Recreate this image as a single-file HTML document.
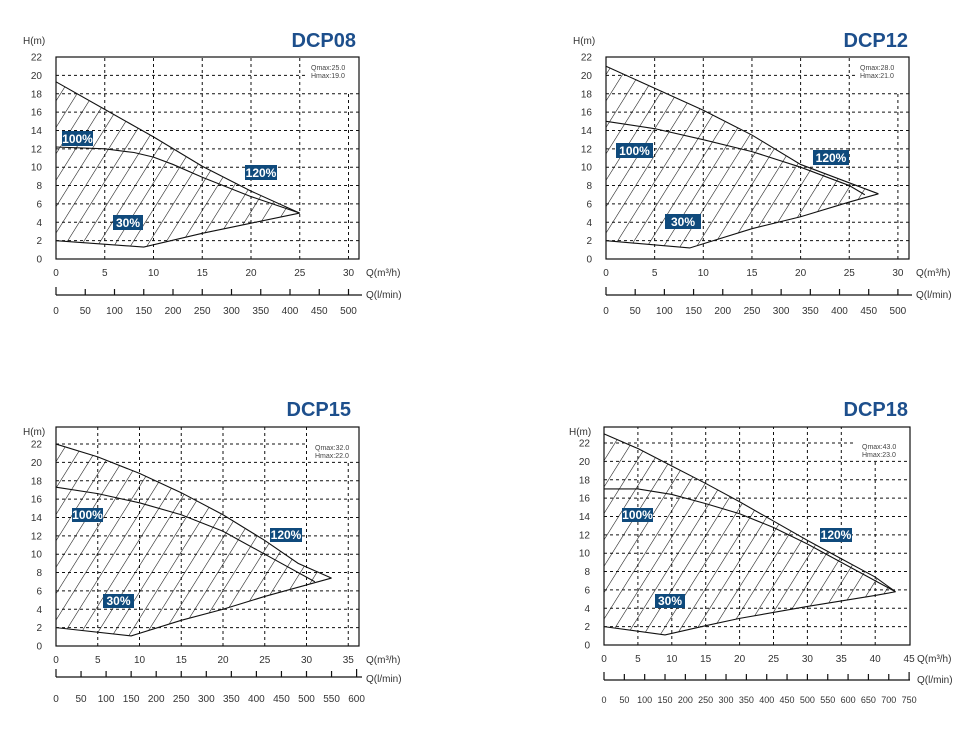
<!DOCTYPE html>
<html><head><meta charset="utf-8"><style>
html,body{margin:0;padding:0;background:#fff;}
svg{display:block;font-family:"Liberation Sans",sans-serif;}
.g{stroke:#111;stroke-width:1;stroke-dasharray:3,3;fill:none}
.b{stroke:#111;stroke-width:1.2;fill:none}
.c{stroke:#111;stroke-width:1.1;fill:none;vector-effect:non-scaling-stroke}
.t{font-size:10px;fill:#333}
.ty{font-size:10px;fill:#333;text-anchor:end}
.tx{font-size:10px;fill:#333;text-anchor:middle}
.ts{font-size:9px;fill:#333;text-anchor:middle}
.ti{font-size:20px;font-weight:bold;fill:#1d4f8c;text-anchor:end}
.q{font-size:7px;fill:#444}
.lb{fill:#0f4a7c}
.lt{font-size:12px;font-weight:bold;fill:#fff;text-anchor:middle}
</style></head><body>
<svg width="979" height="731" viewBox="0 0 979 731">
<defs>
<pattern id="h" patternUnits="userSpaceOnUse" width="14" height="14" patternTransform="rotate(32)">
<line x1="0" y1="-1" x2="0" y2="15" stroke="#111" stroke-width="1.1"/>
</pattern>
<clipPath id="c1"><polygon transform="scale(9.75,-9.18)" points="0,19.3 5,16.3 10,13.3 15,10.1 20,7.4 25,5 20,3.9 15,2.8 9,1.3 0,2"/></clipPath>
<clipPath id="c2"><polygon transform="scale(9.73,-9.18)" points="0,21 5,18.6 10,16.2 15,13.5 20,10.3 25,8.3 28,7.1 25,6.2 20,4.6 15,3.3 8.6,1.2 0,2"/></clipPath>
<clipPath id="c3"><polygon transform="scale(8.35,-9.18)" points="0,22 5,20.6 10,18.8 15,16.7 20,14.3 25,11.5 29,9 33,7.4 25,5.4 20,4 15,2.8 9,1.1 0,2"/></clipPath>
<clipPath id="c4"><polygon transform="scale(6.78,-9.18)" points="0,23 5,21.4 10,19.5 15,17.6 20,15.6 25,13.5 30,11.4 35,9.4 40,7.4 43,5.8 40,5.4 30,4.2 20,2.9 15,2.1 9,1.1 0,2"/></clipPath>
</defs>

<!-- CHART 1 -->
<text class="ti" x="356" y="47">DCP08</text>
<g transform="translate(56,259)">
<text class="t" x="-33" y="-215">H(m)</text>
<g class="g">
<path d="M48.75,0V-202M97.5,0V-202M146.25,0V-202M195,0V-202M243.75,0V-202M292.5,0V-167"/>
<path d="M0,-18.36H303M0,-36.72H303M0,-55.08H303M0,-73.44H303M0,-91.8H303M0,-110.16H303M0,-128.52H303M0,-146.88H303M0,-165.24H303M0,-183.6H250"/>
</g>
<rect class="b" x="0" y="-202" width="303" height="202"/>
<rect x="0" y="-202" width="303" height="202" fill="url(#h)" clip-path="url(#c1)"/>
<g transform="scale(9.75,-9.18)">
<polyline class="c" points="0,19.3 5,16.3 10,13.3 15,10.1 20,7.4 25,5"/>
<polyline class="c" points="0,12.2 5,12 8,11.6 10,11.1 12,10.3 15,8.9 20,6.8 25,5"/>
<polyline class="c" points="0,2 9,1.3 15,2.8 20,3.9 25,5"/>
</g>
<g class="ty"><text x="-14" y="3.5">0</text><text x="-14" y="-14.9">2</text><text x="-14" y="-33.2">4</text><text x="-14" y="-51.6">6</text><text x="-14" y="-69.9">8</text><text x="-14" y="-88.3">10</text><text x="-14" y="-106.7">12</text><text x="-14" y="-125">14</text><text x="-14" y="-143.4">16</text><text x="-14" y="-161.7">18</text><text x="-14" y="-180.1">20</text><text x="-14" y="-198.5">22</text></g>
<g class="tx"><text x="0" y="17">0</text><text x="48.75" y="17">5</text><text x="97.5" y="17">10</text><text x="146.25" y="17">15</text><text x="195" y="17">20</text><text x="243.75" y="17">25</text><text x="292.5" y="17">30</text></g>
<text class="t" x="310" y="17" font-size="9">Q(m³/h)</text>
<path class="b" d="M0,36H306M0,28V36M29.25,30V36M58.5,30V36M87.75,30V36M117,30V36M146.25,30V36M175.5,30V36M204.75,30V36M234,30V36M263.25,30V36M292.5,30V36"/>
<text class="t" x="310" y="39" font-size="9">Q(l/min)</text>
<g class="tx"><text x="0" y="55">0</text><text x="29.25" y="55">50</text><text x="58.5" y="55">100</text><text x="87.75" y="55">150</text><text x="117" y="55">200</text><text x="146.25" y="55">250</text><text x="175.5" y="55">300</text><text x="204.75" y="55">350</text><text x="234" y="55">400</text><text x="263.25" y="55">450</text><text x="292.5" y="55">500</text></g>
<text class="q" x="255" y="-189">Qmax:25.0</text><text class="q" x="255" y="-181">Hmax:19.0</text>
</g>
<rect class="lb" x="62" y="131" width="31" height="15"/><text class="lt" x="77.5" y="143">100%</text>
<rect class="lb" x="245" y="165" width="32" height="15"/><text class="lt" x="261" y="177">120%</text>
<rect class="lb" x="113" y="215" width="30" height="15"/><text class="lt" x="128" y="227">30%</text>

<!-- CHART 2 -->
<text class="ti" x="908" y="47">DCP12</text>
<g transform="translate(606,259)">
<text class="t" x="-33" y="-215">H(m)</text>
<g class="g">
<path d="M48.65,0V-202M97.3,0V-202M145.95,0V-202M194.6,0V-202M243.25,0V-202M291.9,0V-167"/>
<path d="M0,-18.36H303M0,-36.72H303M0,-55.08H303M0,-73.44H303M0,-91.8H303M0,-110.16H303M0,-128.52H303M0,-146.88H303M0,-165.24H303M0,-183.6H250"/>
</g>
<rect class="b" x="0" y="-202" width="303" height="202"/>
<rect x="0" y="-202" width="303" height="202" fill="url(#h)" clip-path="url(#c2)"/>
<g transform="scale(9.73,-9.18)">
<polyline class="c" points="0,21 5,18.6 10,16.2 15,13.5 20,10.3 25,8.3 28,7.1"/>
<polyline class="c" points="0,15 5,14.2 10,13 15,11.7 20,10 25,8 26.6,7"/>
<polyline class="c" points="0,2 8.6,1.2 15,3.3 20,4.6 25,6.2 28,7.1"/>
</g>
<g class="ty"><text x="-14" y="3.5">0</text><text x="-14" y="-14.9">2</text><text x="-14" y="-33.2">4</text><text x="-14" y="-51.6">6</text><text x="-14" y="-69.9">8</text><text x="-14" y="-88.3">10</text><text x="-14" y="-106.7">12</text><text x="-14" y="-125">14</text><text x="-14" y="-143.4">16</text><text x="-14" y="-161.7">18</text><text x="-14" y="-180.1">20</text><text x="-14" y="-198.5">22</text></g>
<g class="tx"><text x="0" y="17">0</text><text x="48.65" y="17">5</text><text x="97.3" y="17">10</text><text x="145.95" y="17">15</text><text x="194.6" y="17">20</text><text x="243.25" y="17">25</text><text x="291.9" y="17">30</text></g>
<text class="t" x="310" y="17" font-size="9">Q(m³/h)</text>
<path class="b" d="M0,36H306M0,28V36M29.19,30V36M58.38,30V36M87.57,30V36M116.76,30V36M145.95,30V36M175.14,30V36M204.33,30V36M233.52,30V36M262.71,30V36M291.9,30V36"/>
<text class="t" x="310" y="39" font-size="9">Q(l/min)</text>
<g class="tx"><text x="0" y="55">0</text><text x="29.19" y="55">50</text><text x="58.38" y="55">100</text><text x="87.57" y="55">150</text><text x="116.76" y="55">200</text><text x="145.95" y="55">250</text><text x="175.14" y="55">300</text><text x="204.33" y="55">350</text><text x="233.52" y="55">400</text><text x="262.71" y="55">450</text><text x="291.9" y="55">500</text></g>
<text class="q" x="254" y="-189">Qmax:28.0</text><text class="q" x="254" y="-181">Hmax:21.0</text>
</g>
<rect class="lb" x="616" y="143" width="37" height="15"/><text class="lt" x="634.5" y="155">100%</text>
<rect class="lb" x="813" y="150" width="36" height="15"/><text class="lt" x="831" y="162">120%</text>
<rect class="lb" x="665" y="214" width="36" height="15"/><text class="lt" x="683" y="226">30%</text>

<!-- CHART 3 -->
<text class="ti" x="351" y="416">DCP15</text>
<g transform="translate(56,646)">
<text class="t" x="-33" y="-211">H(m)</text>
<g class="g">
<path d="M41.75,0V-219M83.5,0V-219M125.25,0V-219M167,0V-219M208.75,0V-219M250.5,0V-219M292.25,0V-184"/>
<path d="M0,-18.36H303M0,-36.72H303M0,-55.08H303M0,-73.44H303M0,-91.8H303M0,-110.16H303M0,-128.52H303M0,-146.88H303M0,-165.24H303M0,-183.6H303M0,-201.96H250"/>
</g>
<rect class="b" x="0" y="-219" width="303" height="219"/>
<rect x="0" y="-219" width="303" height="219" fill="url(#h)" clip-path="url(#c3)"/>
<g transform="scale(8.35,-9.18)">
<polyline class="c" points="0,22 5,20.6 10,18.8 15,16.7 20,14.3 25,11.5 29,9 33,7.4"/>
<polyline class="c" points="0,17.3 5,16.6 10,15.6 15,14.3 20,12.5 25,10 31,7"/>
<polyline class="c" points="0,2 9,1.1 15,2.8 20,4 25,5.4 33,7.4"/>
</g>
<g class="ty"><text x="-14" y="3.5">0</text><text x="-14" y="-14.9">2</text><text x="-14" y="-33.2">4</text><text x="-14" y="-51.6">6</text><text x="-14" y="-69.9">8</text><text x="-14" y="-88.3">10</text><text x="-14" y="-106.7">12</text><text x="-14" y="-125">14</text><text x="-14" y="-143.4">16</text><text x="-14" y="-161.7">18</text><text x="-14" y="-180.1">20</text><text x="-14" y="-198.5">22</text></g>
<g class="tx"><text x="0" y="17">0</text><text x="41.75" y="17">5</text><text x="83.5" y="17">10</text><text x="125.25" y="17">15</text><text x="167" y="17">20</text><text x="208.75" y="17">25</text><text x="250.5" y="17">30</text><text x="292.25" y="17">35</text></g>
<text class="t" x="310" y="17" font-size="9">Q(m³/h)</text>
<path class="b" d="M0,31H306M0,23V31M25.05,25V31M50.1,25V31M75.15,25V31M100.2,25V31M125.25,25V31M150.3,25V31M175.35,25V31M200.4,25V31M225.45,25V31M250.5,25V31M275.55,25V31M300.6,23V31"/>
<text class="t" x="310" y="36" font-size="9">Q(l/min)</text>
<g class="tx"><text x="0" y="56">0</text><text x="25.05" y="56">50</text><text x="50.1" y="56">100</text><text x="75.15" y="56">150</text><text x="100.2" y="56">200</text><text x="125.25" y="56">250</text><text x="150.3" y="56">300</text><text x="175.35" y="56">350</text><text x="200.4" y="56">400</text><text x="225.45" y="56">450</text><text x="250.5" y="56">500</text><text x="275.55" y="56">550</text><text x="300.6" y="56">600</text></g>
<text class="q" x="259" y="-196">Qmax:32.0</text><text class="q" x="259" y="-188">Hmax:22.0</text>
</g>
<rect class="lb" x="72" y="508" width="31" height="14"/><text class="lt" x="87.5" y="519">100%</text>
<rect class="lb" x="270" y="528" width="32" height="14"/><text class="lt" x="286" y="539">120%</text>
<rect class="lb" x="103" y="594" width="31" height="14"/><text class="lt" x="118.5" y="605">30%</text>

<!-- CHART 4 -->
<text class="ti" x="908" y="416">DCP18</text>
<g transform="translate(604,645)">
<text class="t" x="-35" y="-210">H(m)</text>
<g class="g">
<path d="M33.9,0V-218M67.8,0V-218M101.7,0V-218M135.6,0V-218M169.5,0V-218M203.4,0V-218M237.3,0V-218M271.2,0V-184"/>
<path d="M0,-18.36H306M0,-36.72H306M0,-55.08H306M0,-73.44H306M0,-91.8H306M0,-110.16H306M0,-128.52H306M0,-146.88H306M0,-165.24H306M0,-183.6H306M0,-201.96H250"/>
</g>
<rect class="b" x="0" y="-218" width="306" height="218"/>
<rect x="0" y="-218" width="306" height="218" fill="url(#h)" clip-path="url(#c4)"/>
<g transform="scale(6.78,-9.18)">
<polyline class="c" points="0,23 5,21.4 10,19.5 15,17.6 20,15.6 25,13.5 30,11.4 35,9.4 40,7.4 43,5.8"/>
<polyline class="c" points="0,17 5,17 10,16.4 15,15.4 20,14.3 25,12.8 30,11 35,9 40,7 43,5.8"/>
<polyline class="c" points="0,2 9,1.1 15,2.1 20,2.9 30,4.2 40,5.4 43,5.8"/>
</g>
<g class="ty"><text x="-14" y="3.5">0</text><text x="-14" y="-14.9">2</text><text x="-14" y="-33.2">4</text><text x="-14" y="-51.6">6</text><text x="-14" y="-69.9">8</text><text x="-14" y="-88.3">10</text><text x="-14" y="-106.7">12</text><text x="-14" y="-125">14</text><text x="-14" y="-143.4">16</text><text x="-14" y="-161.7">18</text><text x="-14" y="-180.1">20</text><text x="-14" y="-198.5">22</text></g>
<g class="tx"><text x="0" y="17">0</text><text x="33.9" y="17">5</text><text x="67.8" y="17">10</text><text x="101.7" y="17">15</text><text x="135.6" y="17">20</text><text x="169.5" y="17">25</text><text x="203.4" y="17">30</text><text x="237.3" y="17">35</text><text x="271.2" y="17">40</text><text x="305.1" y="17">45</text></g>
<text class="t" x="313" y="17" font-size="9">Q(m³/h)</text>
<path class="b" d="M0,35H306M0,27V35M20.34,29V35M40.68,29V35M61.02,29V35M81.36,29V35M101.7,29V35M122.04,29V35M142.38,29V35M162.72,29V35M183.06,29V35M203.4,29V35M223.74,29V35M244.08,29V35M264.42,29V35M284.76,29V35M305.1,27V35"/>
<text class="t" x="313" y="38" font-size="9">Q(l/min)</text>
<g class="ts"><text x="0" y="58">0</text><text x="20.34" y="58">50</text><text x="40.68" y="58">100</text><text x="61.02" y="58">150</text><text x="81.36" y="58">200</text><text x="101.7" y="58">250</text><text x="122.04" y="58">300</text><text x="142.38" y="58">350</text><text x="162.72" y="58">400</text><text x="183.06" y="58">450</text><text x="203.4" y="58">500</text><text x="223.74" y="58">550</text><text x="244.08" y="58">600</text><text x="264.42" y="58">650</text><text x="284.76" y="58">700</text><text x="305.1" y="58">750</text></g>
<text class="q" x="258" y="-196">Qmax:43.0</text><text class="q" x="258" y="-188">Hmax:23.0</text>
</g>
<rect class="lb" x="622" y="508" width="31" height="14"/><text class="lt" x="637.5" y="519">100%</text>
<rect class="lb" x="820" y="528" width="32" height="14"/><text class="lt" x="836" y="539">120%</text>
<rect class="lb" x="655" y="594" width="30" height="14"/><text class="lt" x="670" y="605">30%</text>
</svg>
</body></html>
